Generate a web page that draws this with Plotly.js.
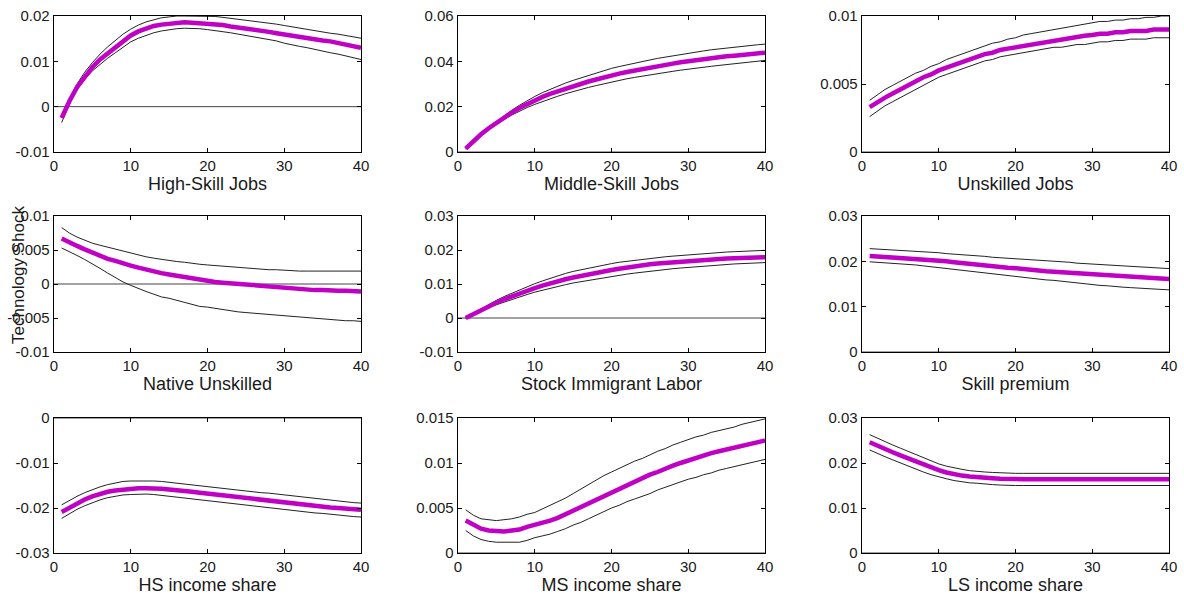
<!DOCTYPE html>
<html>
<head>
<meta charset="utf-8">
<script src="https://cdn.plot.ly/plotly-3.0.1.min.js"></script>
<style>html,body{margin:0;padding:0;background:#fff;}#chart{width:1184px;height:598px;}</style>
</head>
<body>
<div id="chart"></div>
<script>
// horizons
const horizon = [1,2,3,4,5,6,7,8,9,10,11,12,13,14,15,16,17,18,19,20,21,22,23,24,25,26,27,28,29,30,31,32,33,34,35,36,37,38,39,40];

const panelTitles = ["High-Skill Jobs","Middle-Skill Jobs","Unskilled Jobs","Native Unskilled","Stock Immigrant Labor","Skill premium","HS income share","MS income share","LS income share"];
const yAxisLabel = "Technology Shock";

// 1 High-Skill Jobs
const hsjMean = [-0.0025,0.0012,0.0043,0.0067,0.0087,0.0104,0.0118,0.0131,0.0146,0.0157,0.0166,0.0172,0.0178,0.0181,0.0183,0.0184,0.0186,0.0185,0.0184,0.0183,0.0183,0.0180,0.0177,0.0175,0.0173,0.0170,0.0167,0.0165,0.0162,0.0159,0.0156,0.0153,0.0151,0.0148,0.0146,0.0144,0.0141,0.0137,0.0133,0.0130];
const hsjUpper = [-0.0020,0.0017,0.0050,0.0076,0.0097,0.0116,0.0132,0.0146,0.0160,0.0171,0.0180,0.0187,0.0192,0.0196,0.0198,0.0200,0.0200,0.0200,0.0200,0.0200,0.0199,0.0197,0.0195,0.0193,0.0191,0.0189,0.0187,0.0185,0.0182,0.0179,0.0176,0.0174,0.0171,0.0168,0.0165,0.0162,0.0160,0.0157,0.0154,0.0151];
const hsjLower = [-0.0035,0.0005,0.0037,0.0060,0.0079,0.0094,0.0107,0.0119,0.0132,0.0143,0.0151,0.0157,0.0163,0.0167,0.0170,0.0172,0.0173,0.0173,0.0172,0.0170,0.0168,0.0166,0.0163,0.0160,0.0157,0.0155,0.0152,0.0149,0.0145,0.0140,0.0136,0.0133,0.0130,0.0126,0.0122,0.0119,0.0116,0.0112,0.0108,0.0104];

// 2 Middle-Skill Jobs
const msjMean = [0.0015,0.0048,0.0078,0.0105,0.0130,0.0153,0.0174,0.0194,0.0212,0.0229,0.0243,0.0256,0.0268,0.0280,0.0291,0.0301,0.0311,0.0320,0.0330,0.0338,0.0346,0.0353,0.0360,0.0367,0.0373,0.0379,0.0385,0.0390,0.0396,0.0401,0.0406,0.0410,0.0414,0.0418,0.0422,0.0425,0.0428,0.0432,0.0435,0.0438];
const msjUpper = [0.0017,0.0050,0.0081,0.0109,0.0135,0.0160,0.0184,0.0206,0.0226,0.0245,0.0262,0.0277,0.0291,0.0304,0.0316,0.0327,0.0338,0.0349,0.0359,0.0369,0.0377,0.0385,0.0392,0.0399,0.0406,0.0413,0.0419,0.0424,0.0430,0.0436,0.0441,0.0446,0.0451,0.0455,0.0460,0.0463,0.0467,0.0470,0.0473,0.0476];
const msjLower = [0.0013,0.0045,0.0074,0.0100,0.0123,0.0144,0.0163,0.0180,0.0196,0.0210,0.0223,0.0235,0.0246,0.0257,0.0267,0.0276,0.0285,0.0293,0.0301,0.0309,0.0316,0.0323,0.0329,0.0335,0.0341,0.0346,0.0351,0.0356,0.0361,0.0366,0.0370,0.0374,0.0378,0.0382,0.0386,0.0390,0.0394,0.0398,0.0401,0.0404];

// 3 Unskilled Jobs
const usjMean = [0.0033,0.0037,0.0040,0.0043,0.0046,0.0049,0.0052,0.0055,0.0057,0.0060,0.0062,0.0064,0.0066,0.0068,0.0070,0.0072,0.0073,0.0075,0.0076,0.0077,0.0078,0.0079,0.0080,0.0081,0.0082,0.0083,0.0084,0.0085,0.00855,0.0086,0.0087,0.0087,0.0088,0.0088,0.0089,0.0089,0.0089,0.0090,0.0090,0.0090];
const usjUpper = [0.0038,0.0042,0.0046,0.0049,0.0052,0.0055,0.0058,0.0060,0.0063,0.0065,0.0068,0.0070,0.0072,0.0074,0.0076,0.0078,0.0080,0.0081,0.0083,0.0084,0.0086,0.0087,0.0088,0.0089,0.0090,0.0091,0.0092,0.0093,0.0094,0.0095,0.0096,0.0096,0.0097,0.0097,0.0098,0.0098,0.0099,0.0099,0.0100,0.0100];
const usjLower = [0.0026,0.0030,0.0034,0.0037,0.0040,0.0043,0.0046,0.0049,0.0052,0.0055,0.0057,0.0059,0.0061,0.0063,0.0065,0.0067,0.0068,0.0070,0.0071,0.0072,0.0073,0.0074,0.0075,0.0076,0.0077,0.0077,0.0078,0.0079,0.0079,0.0080,0.0081,0.0081,0.0082,0.0082,0.0083,0.0083,0.0083,0.0084,0.0084,0.0084];

// 4 Native Unskilled
const nuMean = [0.0067,0.0061,0.0056,0.0051,0.0046,0.0041,0.0037,0.0034,0.0030,0.0027,0.0024,0.0021,0.0018,0.0016,0.0014,0.0012,0.0010,0.0008,0.0006,0.0005,0.0003,0.0002,0.0001,0.0000,-0.0001,-0.0002,-0.0003,-0.0004,-0.0005,-0.0006,-0.0006,-0.0007,-0.0008,-0.0009,-0.0009,-0.0010,-0.0010,-0.0010,-0.0010,-0.0011];
const nuUpper = [0.0083,0.0075,0.0069,0.0064,0.0060,0.0057,0.0054,0.0051,0.0048,0.0045,0.0042,0.0040,0.0038,0.0036,0.0034,0.0033,0.0032,0.0030,0.0029,0.0028,0.0027,0.0026,0.0025,0.0025,0.0024,0.0023,0.0022,0.0021,0.0021,0.0020,0.0020,0.0019,0.0019,0.0019,0.0019,0.0019,0.0019,0.0019,0.0019,0.0019];
const nuLower = [0.0053,0.0048,0.0042,0.0036,0.0030,0.0023,0.0016,0.0009,0.0003,-0.0002,-0.0007,-0.0011,-0.0015,-0.0019,-0.0021,-0.0024,-0.0027,-0.0031,-0.0033,-0.0034,-0.0036,-0.0038,-0.0040,-0.0041,-0.0042,-0.0043,-0.0044,-0.0045,-0.0046,-0.0047,-0.0048,-0.0049,-0.0050,-0.0050,-0.0051,-0.0052,-0.0053,-0.0054,-0.0054,-0.0055];

// 5 Stock Immigrant Labor
const silMean = [0.0000,0.0012,0.0024,0.0035,0.0045,0.0055,0.0064,0.0072,0.0080,0.0088,0.0095,0.0102,0.0108,0.0114,0.0119,0.0124,0.0129,0.0133,0.0137,0.0141,0.0145,0.0149,0.0152,0.0155,0.0158,0.0160,0.0162,0.0164,0.0166,0.0168,0.0170,0.0171,0.0172,0.0174,0.0175,0.0176,0.0177,0.0178,0.0178,0.0179];
const silUpper = [0.0001,0.0014,0.0027,0.0040,0.0052,0.0063,0.0073,0.0083,0.0092,0.0101,0.0109,0.0117,0.0124,0.0131,0.0137,0.0142,0.0147,0.0152,0.0156,0.0160,0.0164,0.0167,0.0170,0.0173,0.0175,0.0178,0.0180,0.0182,0.0184,0.0186,0.0188,0.0189,0.0191,0.0192,0.0194,0.0195,0.0196,0.0197,0.0198,0.0199];
const silLower = [-0.0001,0.0010,0.0021,0.0031,0.0039,0.0047,0.0055,0.0062,0.0069,0.0076,0.0082,0.0088,0.0093,0.0098,0.0103,0.0107,0.0111,0.0115,0.0119,0.0123,0.0126,0.0129,0.0132,0.0135,0.0138,0.0140,0.0143,0.0145,0.0147,0.0149,0.0151,0.0153,0.0155,0.0157,0.0158,0.0159,0.0160,0.0161,0.0162,0.0163];

// 6 Skill premium
const spMean = [0.0212,0.0211,0.0210,0.0209,0.0208,0.0207,0.0206,0.0204,0.0202,0.0201,0.0200,0.0198,0.0196,0.0195,0.0193,0.0192,0.0190,0.0188,0.0186,0.0185,0.0184,0.0182,0.0180,0.0178,0.0177,0.0176,0.0174,0.0173,0.0171,0.0170,0.0169,0.0168,0.0167,0.0166,0.0165,0.0164,0.0163,0.0162,0.0162,0.0161];
const spUpper = [0.0228,0.0227,0.0226,0.0226,0.0225,0.0224,0.0223,0.0221,0.0220,0.0219,0.0217,0.0216,0.0215,0.0213,0.0212,0.0211,0.0209,0.0208,0.0206,0.0205,0.0204,0.0203,0.0202,0.0201,0.0200,0.0199,0.0198,0.0196,0.0195,0.0194,0.0193,0.0192,0.0191,0.0190,0.0189,0.0188,0.0187,0.0186,0.0185,0.0184];
const spLower = [0.0199,0.0198,0.0197,0.0196,0.0194,0.0193,0.0192,0.0190,0.0188,0.0186,0.0184,0.0182,0.0180,0.0178,0.0176,0.0174,0.0172,0.0170,0.0168,0.0166,0.0164,0.0162,0.0160,0.0159,0.0158,0.0156,0.0154,0.0152,0.0150,0.0149,0.0147,0.0146,0.0144,0.0143,0.0142,0.0141,0.0140,0.0139,0.0138,0.0137];

// 7 HS income share
const hsiMean = [-0.0209,-0.0199,-0.0190,-0.0181,-0.0174,-0.0168,-0.0164,-0.0161,-0.0159,-0.0157,-0.0156,-0.0156,-0.0156,-0.0157,-0.0159,-0.0160,-0.0162,-0.0164,-0.0166,-0.0168,-0.0170,-0.0172,-0.0174,-0.0176,-0.0178,-0.0181,-0.0183,-0.0185,-0.0186,-0.0188,-0.0190,-0.0192,-0.0194,-0.0196,-0.0198,-0.0199,-0.0200,-0.0202,-0.0203,-0.0204];
const hsiUpper = [-0.0193,-0.0183,-0.0174,-0.0166,-0.0159,-0.0153,-0.0148,-0.0144,-0.0141,-0.0140,-0.0140,-0.0139,-0.0140,-0.0141,-0.0143,-0.0145,-0.0146,-0.0148,-0.0150,-0.0152,-0.0154,-0.0156,-0.0158,-0.0160,-0.0162,-0.0164,-0.0166,-0.0167,-0.0169,-0.0171,-0.0173,-0.0175,-0.0177,-0.0179,-0.0180,-0.0182,-0.0184,-0.0186,-0.0188,-0.0189];
const hsiLower = [-0.0223,-0.0213,-0.0203,-0.0195,-0.0188,-0.0182,-0.0177,-0.0174,-0.0171,-0.0170,-0.0169,-0.0169,-0.0170,-0.0172,-0.0174,-0.0176,-0.0178,-0.0180,-0.0182,-0.0184,-0.0186,-0.0188,-0.0190,-0.0192,-0.0194,-0.0196,-0.0198,-0.0200,-0.0202,-0.0204,-0.0206,-0.0208,-0.0209,-0.0211,-0.0212,-0.0214,-0.0216,-0.0218,-0.0219,-0.0220];

// 8 MS income share
const msiMean = [0.0036,0.0031,0.0027,0.0025,0.0024,0.0024,0.0025,0.0026,0.0029,0.0031,0.0033,0.0036,0.0039,0.0043,0.0047,0.0051,0.0055,0.0060,0.0064,0.0068,0.0072,0.0076,0.0080,0.0083,0.0087,0.0090,0.0094,0.0097,0.0100,0.0103,0.0106,0.0108,0.0111,0.0113,0.0115,0.0117,0.0120,0.0122,0.0124,0.0125];
const msiUpper = [0.0048,0.0042,0.0038,0.0037,0.0036,0.0037,0.0038,0.0040,0.0043,0.0045,0.0049,0.0053,0.0057,0.0061,0.0066,0.0071,0.0076,0.0081,0.0086,0.0090,0.0094,0.0098,0.0102,0.0105,0.0109,0.0113,0.0116,0.0120,0.0123,0.0126,0.0129,0.0131,0.0134,0.0136,0.0138,0.0140,0.0143,0.0145,0.0147,0.0149];
const msiLower = [0.0025,0.0019,0.0015,0.0013,0.0012,0.0012,0.0012,0.0012,0.0014,0.0017,0.0019,0.0021,0.0024,0.0027,0.0031,0.0034,0.0038,0.0042,0.0046,0.0050,0.0053,0.0057,0.0060,0.0063,0.0066,0.0070,0.0073,0.0076,0.0079,0.0082,0.0084,0.0087,0.0089,0.0092,0.0094,0.0096,0.0098,0.0100,0.0102,0.0104];

// 9 LS income share
const lsiMean = [0.0246,0.0238,0.0231,0.0224,0.0217,0.0210,0.0203,0.0196,0.0190,0.0184,0.0179,0.0175,0.0172,0.0170,0.0168,0.0167,0.0166,0.0165,0.0164,0.0164,0.0164,0.0164,0.0164,0.0164,0.0164,0.0164,0.0164,0.0164,0.0164,0.0164,0.0164,0.0164,0.0164,0.0164,0.0164,0.0164,0.0164,0.0164,0.0164,0.0164];
const lsiUpper = [0.0263,0.0255,0.0247,0.0240,0.0233,0.0226,0.0219,0.0212,0.0205,0.0198,0.0193,0.0189,0.0186,0.0183,0.0181,0.0180,0.0179,0.0178,0.0177,0.0177,0.0177,0.0177,0.0177,0.0177,0.0177,0.0176,0.0176,0.0176,0.0177,0.0177,0.0177,0.0177,0.0177,0.0177,0.0177,0.0177,0.0177,0.0177,0.0177,0.0177];
const lsiLower = [0.0229,0.0221,0.0214,0.0207,0.0200,0.0193,0.0186,0.0180,0.0174,0.0169,0.0165,0.0161,0.0158,0.0156,0.0155,0.0153,0.0152,0.0151,0.0150,0.0150,0.0150,0.0150,0.0150,0.0150,0.0150,0.0150,0.0150,0.0150,0.0150,0.0150,0.0150,0.0150,0.0150,0.0150,0.0150,0.0150,0.0150,0.0150,0.0150,0.0150];

// axis ranges and tick labels
const xTickVals = [0,10,20,30,40];
const xTickText = ["0","10","20","30","40"];
const yRanges = [[-0.01,0.02],[0,0.06],[0,0.01],[-0.01,0.01],[-0.01,0.03],[0,0.03],[-0.03,0],[0,0.015],[0,0.03]];
const yTickVals = [
  [-0.01,0,0.01,0.02],
  [0,0.02,0.04,0.06],
  [0,0.005,0.01],
  [-0.01,-0.005,0,0.005,0.01],
  [-0.01,0,0.01,0.02,0.03],
  [0,0.01,0.02,0.03],
  [-0.03,-0.02,-0.01,0],
  [0,0.005,0.01,0.015],
  [0,0.01,0.02,0.03]
];
const yTickText = [
  ["-0.01","0","0.01","0.02"],
  ["0","0.02","0.04","0.06"],
  ["0","0.005","0.01"],
  ["-0.01","-0.005","0","0.005","0.01"],
  ["-0.01","0","0.01","0.02","0.03"],
  ["0","0.01","0.02","0.03"],
  ["-0.03","-0.02","-0.01","0"],
  ["0","0.005","0.01","0.015"],
  ["0","0.01","0.02","0.03"]
];

const means = [hsjMean,msjMean,usjMean,nuMean,silMean,spMean,hsiMean,msiMean,lsiMean];
const uppers = [hsjUpper,msjUpper,usjUpper,nuUpper,silUpper,spUpper,hsiUpper,msiUpper,lsiUpper];
const lowers = [hsjLower,msjLower,usjLower,nuLower,silLower,spLower,hsiLower,msiLower,lsiLower];

// layout geometry (pixels)
const W = 1184, H = 598;
const colPx = [[54,361],[458,765],[862,1169]];
const rowPx = [[16,152],[216,352],[418,553]];

const traces = [];
const layout = {
  width: W, height: H,
  margin: {l:0, r:0, t:0, b:0},
  paper_bgcolor: "#ffffff",
  plot_bgcolor: "#ffffff",
  showlegend: false,
  font: {family: "Liberation Sans, Arial, sans-serif", color: "#1a1a1a", size: 15},
  annotations: []
};

const zeroX = [0,40];
for (let i = 0; i < 9; i++) {
  const r = Math.floor(i/3), c = i % 3;
  const sfx = i === 0 ? "" : String(i+1);
  const xa = "x" + sfx, ya = "y" + sfx;
  traces.push({x: zeroX, y: [0,0], xaxis: xa, yaxis: ya, mode: "lines",
    line: {color: "#444444", width: 1}, hoverinfo: "skip"});
  traces.push({x: horizon, y: uppers[i], xaxis: xa, yaxis: ya, mode: "lines",
    line: {color: "#222222", width: 1}, hoverinfo: "skip"});
  traces.push({x: horizon, y: lowers[i], xaxis: xa, yaxis: ya, mode: "lines",
    line: {color: "#222222", width: 1}, hoverinfo: "skip"});
  traces.push({x: horizon, y: means[i], xaxis: xa, yaxis: ya, mode: "lines",
    line: {color: "#c000c4", width: 4.5}, hoverinfo: "skip"});

  layout["xaxis" + sfx] = {
    domain: [colPx[c][0]/W, colPx[c][1]/W],
    anchor: ya, range: [0,40],
    tickvals: xTickVals, ticktext: xTickText,
    ticks: "inside", ticklen: 4, tickcolor: "#000", tickwidth: 1,
    showline: true, linecolor: "#000", linewidth: 1.3, mirror: "ticks",
    showgrid: false, zeroline: false,
    tickfont: {size: 15, color: "#1a1a1a"},
    title: {text: panelTitles[i], font: {size: 18, color: "#1a1a1a"}, standoff: 3}
  };
  layout["yaxis" + sfx] = {
    domain: [1 - rowPx[r][1]/H, 1 - rowPx[r][0]/H],
    anchor: xa, range: yRanges[i],
    tickvals: yTickVals[i], ticktext: yTickText[i],
    ticks: "inside", ticklen: 4, tickcolor: "#000", tickwidth: 1,
    showline: true, linecolor: "#000", linewidth: 1.3, mirror: "ticks",
    showgrid: false, zeroline: false,
    tickfont: {size: 15, color: "#1a1a1a"}
  };
}

layout.annotations.push({
  text: yAxisLabel, xref: "paper", yref: "paper",
  x: 18/W, y: 1 - 275/H, xanchor: "center", yanchor: "middle",
  textangle: -90, showarrow: false,
  font: {size: 17, color: "#1a1a1a"}
});

Plotly.newPlot("chart", traces, layout, {staticPlot: true, displayModeBar: false});
</script>
</body>
</html>
